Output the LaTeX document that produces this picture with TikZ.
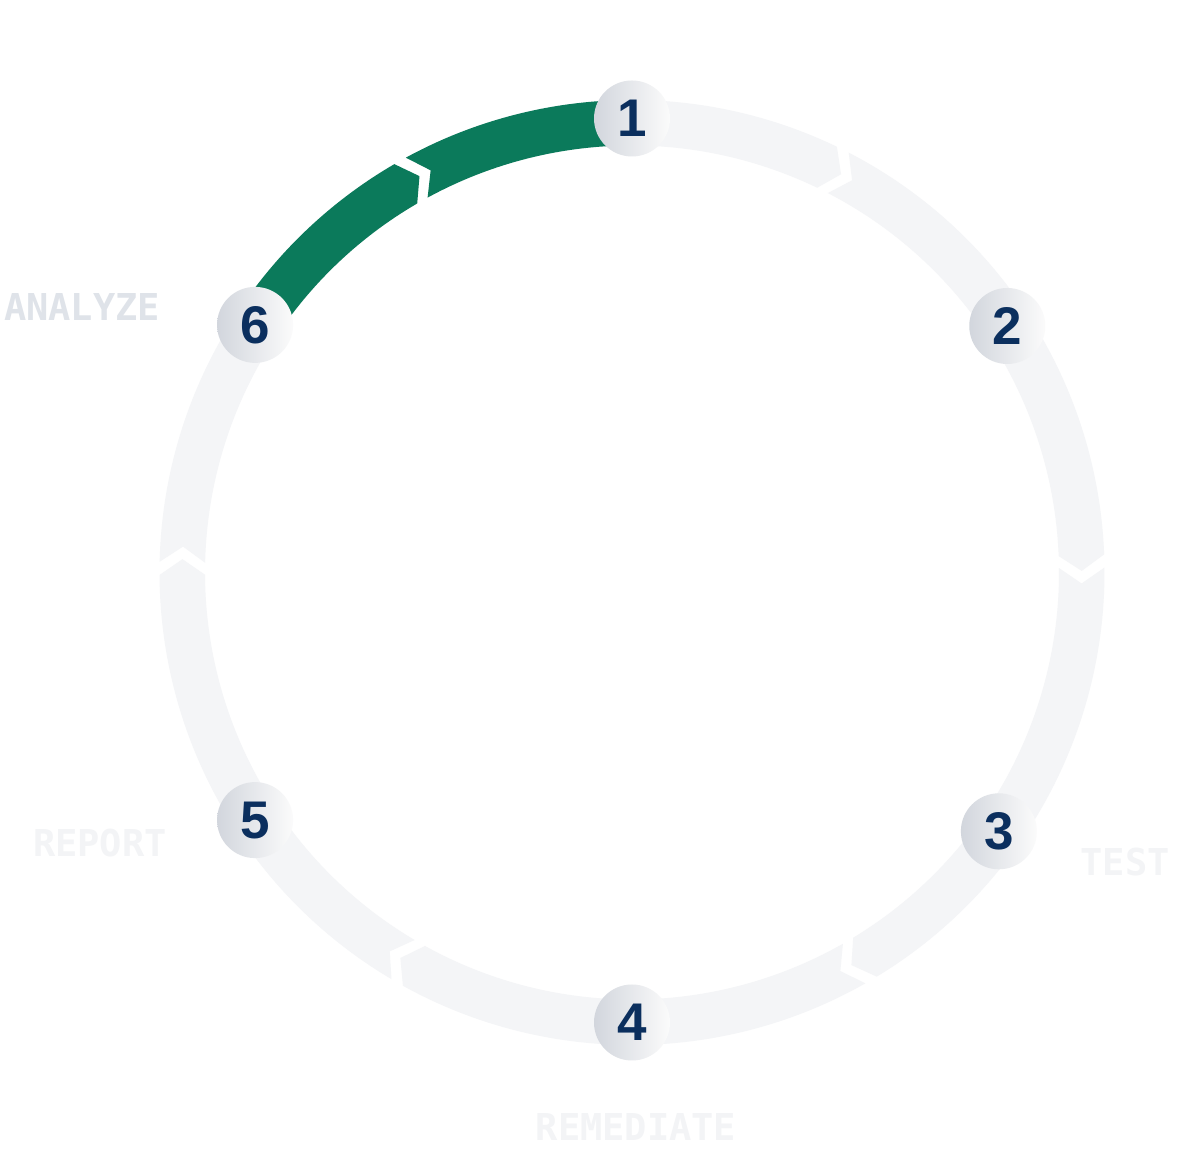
\documentclass[tikz,border=0pt]{standalone}
\usepackage{fontspec}
\setmainfont{Liberation Sans}
\newfontfamily\labelfont{DejaVu Sans Mono}
\definecolor{ringgray}{HTML}{F4F5F7}
\definecolor{ringgreen}{HTML}{0B7A5B}
\definecolor{numnavy}{HTML}{0B2F5E}
\definecolor{nodeleft}{HTML}{D2D6DD}
\definecolor{noderight}{HTML}{FBFBFB}
\definecolor{lblA}{HTML}{DFE3E9}
\definecolor{lblB}{HTML}{F3F4F6}
\newcommand\myRo{472.5}
\newcommand\myRi{427}
\newcommand\myRm{449.75}
\newcommand\myGap{0.8}
\newcommand\myDepth{2.0}
% first half: from node angle #2 to chevron #3, ends with a tip
\newcommand\halfA[3]{\fill[#1] (#2:\myRo) arc[start angle=#2, end angle={#3+\myGap}, radius=\myRo] -- ({#3+\myGap-\myDepth}:\myRm) -- ({#3+\myGap}:\myRi) arc[start angle={#3+\myGap}, end angle=#2, radius=\myRi] -- cycle;}
% second half: from chevron #2 to node angle #3, starts with a notch
\newcommand\halfB[3]{\fill[#1] ({#2-\myGap}:\myRo) arc[start angle={#2-\myGap}, end angle=#3, radius=\myRo] -- (#3:\myRi) arc[start angle=#3, end angle={#2-\myGap}, radius=\myRi] -- ({#2-\myGap-\myDepth}:\myRm) -- cycle;}
\tikzset{
  stepnode/.style={circle, minimum size=76pt, inner sep=0pt, shading=axis, left color=nodeleft, right color=noderight, shading angle=90, font=\fontsize{53}{53}\selectfont\bfseries, text=numnavy},
  steplabel/.style={font=\labelfont\fontsize{37}{37}\selectfont\bfseries}
}
\begin{document}
\begin{tikzpicture}[x=1pt,y=1pt]
\useasboundingbox (0,0) rectangle (1188,1150);
\fill[white] (0,0) rectangle (1188,1150);
\begin{scope}[shift={(632,577.5)}]
  % segment 6 -> 1 (green)
  \halfA{ringgreen}{146.7}{119.4}
  \halfB{ringgreen}{119.4}{90}
  % segment 1 -> 2
  \halfA{ringgray}{90}{63.5}
  \halfB{ringgray}{63.5}{33.3}
  % segment 2 -> 3
  \halfA{ringgray}{33.3}{1.4}
  \halfB{ringgray}{1.4}{-35.2}
  % segment 3 -> 4
  \halfA{ringgray}{-35.2}{-59.6}
  \halfB{ringgray}{-59.6}{-90}
  % segment 4 -> 5
  \halfA{ringgray}{270}{240.2}
  \halfB{ringgray}{240.2}{213.3}
  % segment 5 -> 6
  \halfA{ringgray}{213.3}{179.5}
  \halfB{ringgray}{179.5}{146.7}
  \node[stepnode] (n1) at (90:454) {1};
  \node[stepnode] (n2) at (33.3:449) {2};
  \node[stepnode] (n3) at (-35.2:449) {3};
  \node[stepnode] (n4) at (-90:450) {4};
  \node[stepnode] (n5) at (213.3:451) {5};
  \node[stepnode] (n6) at (146.7:451) {6};
\end{scope}
\node[steplabel, text=lblA] (lanalyze) at (82,843) {ANALYZE};
\node[steplabel, text=lblB] (lreport) at (100,307) {REPORT};
\node[steplabel, text=lblB] (ltest) at (1125,288) {TEST};
\node[steplabel, text=lblB] (lremediate) at (636,23) {REMEDIATE};
\end{tikzpicture}
\end{document}
